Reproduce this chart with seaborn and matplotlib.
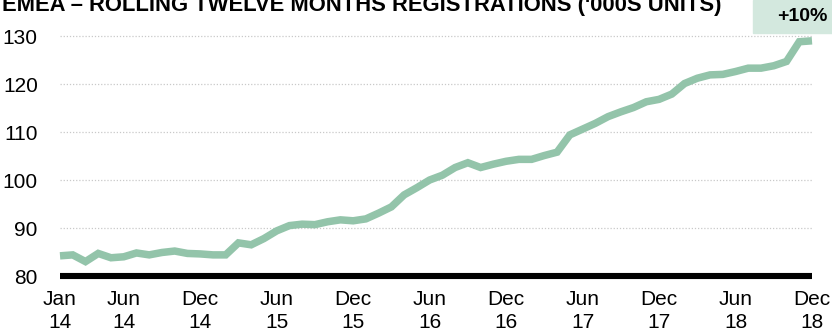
import matplotlib
matplotlib.use("Agg")
import matplotlib.pyplot as plt
import seaborn as sns
import pandas as pd
import numpy as np

# Rolling twelve-month registrations, EMEA ('000 units), Jan 2014 - Dec 2018
months = pd.date_range("2014-01-01", "2018-12-01", freq="MS")
registrations = [
    84.2, 84.4, 83.0, 84.7, 83.8, 84.0, 84.8, 84.4, 84.9, 85.2, 84.7, 84.6,
    84.4, 84.4, 86.9, 86.5, 87.8, 89.4, 90.5, 90.8, 90.7, 91.3, 91.7, 91.5,
    91.9, 93.1, 94.4, 96.9, 98.4, 100.0, 101.0, 102.6, 103.6, 102.6, 103.3, 103.9,
    104.3, 104.3, 105.1, 105.8, 109.4, 110.6, 111.8, 113.2, 114.2, 115.1, 116.3, 116.8,
    117.9, 120.1, 121.2, 121.9, 122.0, 122.6, 123.3, 123.3, 123.8, 124.7, 128.8, 129.0,
]
tick_months = [0, 5, 11, 17, 23, 29, 35, 41, 47, 53, 59]
y_ticks = [80, 90, 100, 110, 120, 130]
title = "EMEA \u2013 ROLLING TWELVE MONTHS REGISTRATIONS ('000S UNITS)"
growth_label = "+10%"

LINE_GREEN = "#93c4aa"
BOX_GREEN = "#d3e8de"

df = pd.DataFrame({"idx": np.arange(len(months)), "value": registrations})

sns.set_theme(style="white")
plt.rcParams["font.family"] = ["Liberation Sans", "DejaVu Sans"]

W, H = 832, 330
fig = plt.figure(figsize=(W / 100, H / 100), dpi=100)
left, right, top, bottom = 60, 812, 36, 276
ax = fig.add_axes([left / W, 1 - bottom / H, (right - left) / W, (bottom - top) / H])

# dotted horizontal guides
for yv in y_ticks[1:]:
    ax.axhline(yv, color="#c9c9c9", lw=0.9, ls=(0, (1, 1.5)), zorder=1)

sns.lineplot(data=df, x="idx", y="value", ax=ax, color=LINE_GREEN, lw=5.4,
             solid_joinstyle="miter", solid_capstyle="butt", zorder=3)
for ln in ax.lines:
    ln.set_clip_on(False)

# heavy baseline at 80
ax.axhline(80, color="black", lw=4.4, solid_capstyle="butt", zorder=4, clip_on=False)

ax.set_xlim(0, 59)
ax.set_ylim(80, 130)
ax.set_xlabel("")
ax.set_ylabel("")
for s in ax.spines.values():
    s.set_visible(False)

ax.set_yticks(y_ticks)
ax.set_yticklabels([str(v) for v in y_ticks], fontsize=15, color="black")
ax.set_xticks(tick_months)
ax.set_xticklabels([f"{months[i]:%b}\n{months[i]:%y}" for i in tick_months],
                   fontsize=15, color="black", linespacing=1.25)
ax.tick_params(axis="y", length=0, pad=16)
ax.tick_params(axis="x", length=0, pad=10)

# headline
fig.text(2 / W, 1 - 11 / H, title, fontsize=15.8, fontweight="bold",
         ha="left", va="baseline", color="black")

# growth badge
fig.patches.append(plt.Rectangle((753 / W, 1 - 33 / H), 79 / W, 33 / H,
                                 transform=fig.transFigure, color=BOX_GREEN,
                                 zorder=0))
fig.text(827 / W, 1 - 21 / H, growth_label, fontsize=14, fontweight="bold",
         ha="right", va="baseline", color="black")

fig.savefig("out.png", dpi=100)
